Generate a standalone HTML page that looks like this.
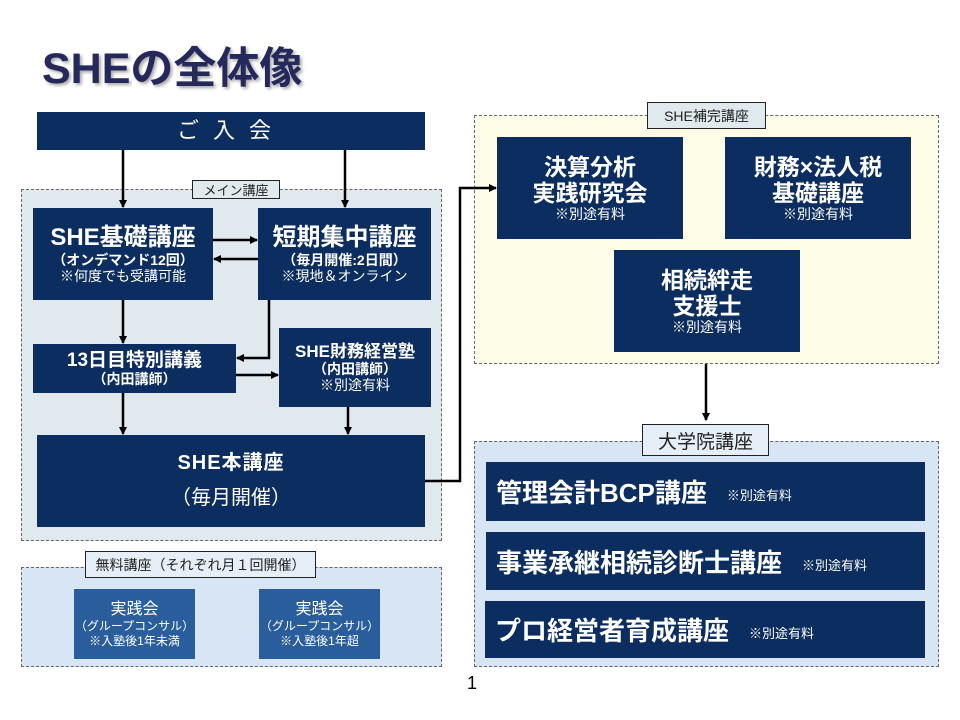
<!DOCTYPE html>
<html><head><meta charset="utf-8"><style>
*{margin:0;padding:0;box-sizing:border-box}
body{width:960px;height:720px;background:#fff;position:relative;overflow:hidden;font-family:"Liberation Sans","Noto Sans CJK JP",sans-serif}
div{position:absolute}
.b{background:#0b2d60;color:#fff;display:flex;flex-direction:column;align-items:center;justify-content:center;text-align:center;font-weight:bold;line-height:1.15}
.b div{position:static}
.c{border:1px dashed #666}
.l{background:#dfe9ee;border:1px solid #222;color:#222;font-size:13px;display:flex;align-items:center;justify-content:center;white-space:nowrap}
.s{font-weight:normal;font-size:14px}
.t{font-size:23px}
.m{font-size:14px}
.g{background:#0b2d60;color:#fff;font-weight:bold;font-size:26px;display:flex;align-items:center;padding-left:10px;white-space:nowrap}
.g span{font-weight:normal;font-size:13px;margin-left:20px;margin-top:6px}
</style></head><body>
<div style="left:42px;top:34px;font-size:43px;font-weight:bold;color:#25285a;text-shadow:2px 2px 3px rgba(0,0,0,0.35)">SHEの全体像</div>

<div class="b" style="left:37px;top:112px;width:388px;height:38px;font-weight:normal;font-size:22px;letter-spacing:14px">ご入会</div>

<div class="c" style="left:21px;top:189px;width:421px;height:352px;background:#dfe9ee"></div>
<div class="l" style="left:192px;top:180px;width:88px;height:19px;font-size:13px">メイン講座</div>

<div class="b" style="left:33px;top:208px;width:180px;height:92px"><div style="font-size:24px">SHE基礎講座</div><div class="m">（オンデマンド12回）</div><div class="s">※何度でも受講可能</div></div>
<div class="b" style="left:258px;top:208px;width:173px;height:92px"><div style="font-size:24px">短期集中講座</div><div class="m">（毎月開催:2日間）</div><div class="s">※現地＆オンライン</div></div>
<div class="b" style="left:33px;top:344px;width:203px;height:49px"><div style="font-size:19px">13日目特別講義</div><div class="m">（内田講師）</div></div>
<div class="b" style="left:279px;top:328px;width:152px;height:79px"><div style="font-size:17px">SHE財務経営塾</div><div class="m">（内田講師）</div><div class="s">※別途有料</div></div>
<div class="b" style="left:37px;top:435px;width:388px;height:92px"><div style="font-size:20px;letter-spacing:1px">SHE本講座</div><div style="font-weight:normal;font-size:20px;margin-top:12px">（毎月開催）</div></div>

<div class="c" style="left:21px;top:567px;width:421px;height:100px;background:#d8e5f4"></div>
<div class="l" style="left:85px;top:551px;width:231px;height:27px;background:#e6eef8;font-size:14px">無料講座（それぞれ月１回開催）</div>
<div class="b" style="left:74px;top:589px;width:121px;height:70px;background:#2a5d9c;font-weight:normal;line-height:1.2"><div style="font-size:16px">実践会</div><div style="font-size:12px">（グループコンサル）</div><div style="font-size:12px">※入塾後1年未満</div></div>
<div class="b" style="left:259px;top:589px;width:121px;height:70px;background:#2a5d9c;font-weight:normal;line-height:1.2"><div style="font-size:16px">実践会</div><div style="font-size:12px">（グループコンサル）</div><div style="font-size:12px">※入塾後1年超</div></div>

<div class="c" style="left:474px;top:115px;width:465px;height:249px;background:#fdfde8"></div>
<div class="l" style="left:647px;top:102px;width:119px;height:27px;font-size:14px">SHE補完講座</div>
<div class="b" style="left:497px;top:137px;width:186px;height:102px"><div class="t">決算分析</div><div class="t">実践研究会</div><div class="s">※別途有料</div></div>
<div class="b" style="left:725px;top:137px;width:186px;height:102px"><div class="t">財務×法人税</div><div class="t">基礎講座</div><div class="s">※別途有料</div></div>
<div class="b" style="left:614px;top:250px;width:186px;height:102px"><div class="t">相続絆走</div><div class="t">支援士</div><div class="s">※別途有料</div></div>

<div class="c" style="left:474px;top:441px;width:465px;height:226px;background:#d8e5f4"></div>
<div class="l" style="left:642px;top:424px;width:127px;height:32px;background:#e6eef8;font-size:19px">大学院講座</div>
<div class="g" style="left:486px;top:462px;width:439px;height:59px">管理会計BCP講座<span>※別途有料</span></div>
<div class="g" style="left:486px;top:532px;width:439px;height:58px">事業承継相続診断士講座<span>※別途有料</span></div>
<div class="g" style="left:485px;top:601px;width:440px;height:57px">プロ経営者育成講座<span>※別途有料</span></div>

<div style="left:467px;top:673px;font-size:18px;color:#000">1</div>

<svg width="960" height="720" style="position:absolute;left:0;top:0" xmlns="http://www.w3.org/2000/svg">
<defs><marker id="a" markerWidth="8" markerHeight="8" refX="7" refY="4" orient="auto" markerUnits="userSpaceOnUse"><path d="M0,0L8,4L0,8z" fill="#000"/></marker></defs>
<g stroke="#000" stroke-width="2.5" fill="none" marker-end="url(#a)">
<path d="M123,150V207"/>
<path d="M345,150V207"/>
<path d="M213,240H257"/>
<path d="M258,259H214"/>
<path d="M123,300V343"/>
<path d="M269,300V358H237"/>
<path d="M236,375H278"/>
<path d="M123,393V434"/>
<path d="M348,407V434"/>
<path d="M425,481H460V188H496"/>
<path d="M706,364V420"/>
</g>
</svg>
</body></html>
